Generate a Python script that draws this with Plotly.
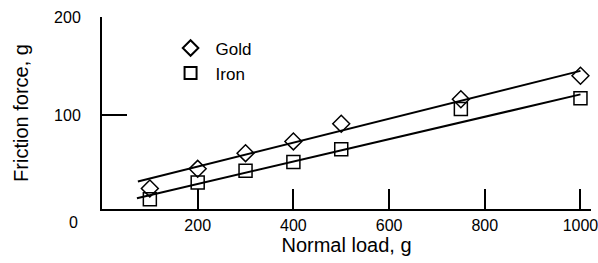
import plotly.graph_objects as go

loads = [100, 200, 300, 400, 500, 750, 1000]
gold_friction = [25, 45, 61, 73, 91, 116, 140]
iron_friction = [14, 31, 43, 52, 65, 106, 117]

gold_fit_x = [75, 1000]
gold_fit_y = [32, 145]
iron_fit_x = [73, 1000]
iron_fit_y = [15, 121]

x_ticks = [200, 400, 600, 800, 1000]
y_ticks = [100, 200]

FONT = "Liberation Sans, Arial, sans-serif"

fig = go.Figure()
fig.add_trace(go.Scatter(x=gold_fit_x, y=gold_fit_y, mode="lines",
                         line=dict(color="black", width=2), showlegend=False))
fig.add_trace(go.Scatter(x=iron_fit_x, y=iron_fit_y, mode="lines",
                         line=dict(color="black", width=2), showlegend=False))
fig.add_trace(go.Scatter(x=loads, y=gold_friction, mode="markers", name="Gold",
                         marker=dict(symbol="diamond-open", size=13, color="black",
                                     line=dict(width=1.5, color="black"))))
fig.add_trace(go.Scatter(x=loads, y=iron_friction, mode="markers", name="Iron",
                         marker=dict(symbol="square-open", size=13, color="black",
                                     line=dict(width=1.5, color="black"))))

fig.add_annotation(x=0, y=4, xref="x", yref="y", text="0", showarrow=False,
                   xshift=-29, yshift=-13, font=dict(size=16, color="black", family=FONT))

fig.update_layout(
    width=598, height=263,
    margin=dict(l=102, r=7, t=17, b=54, autoexpand=False),
    paper_bgcolor="white", plot_bgcolor="white",
    font=dict(family=FONT, size=17, color="black"),
    showlegend=True,
    legend=dict(x=0.13, y=0.93, xanchor="left", yanchor="top",
                bgcolor="rgba(0,0,0,0)", font=dict(size=17),
                itemsizing="constant", itemwidth=40, tracegroupgap=0),
    xaxis=dict(range=[0, 1022], tickvals=x_ticks, ticks="inside", ticklen=20,
               tickwidth=1.5, tickcolor="black", showline=True, linecolor="black",
               linewidth=2, showgrid=False, zeroline=False, ticklabelstandoff=1,
               ticklabeloverflow="allow", automargin=False, tickfont=dict(size=16),
               title=dict(text="Normal load, g", standoff=3)),
    yaxis=dict(range=[4, 200], tickvals=y_ticks, ticks="inside", ticklen=25,
               tickwidth=1.5, tickcolor="black", showline=True, linecolor="black",
               linewidth=2, showgrid=False, zeroline=False, ticklabelstandoff=16,
               automargin=False, tickfont=dict(size=16),
               title=dict(text="Friction force, g", standoff=20)),
)

fig.write_html("out.html", config={"displayModeBar": False},
               post_script="document.body.style.margin='0';")
